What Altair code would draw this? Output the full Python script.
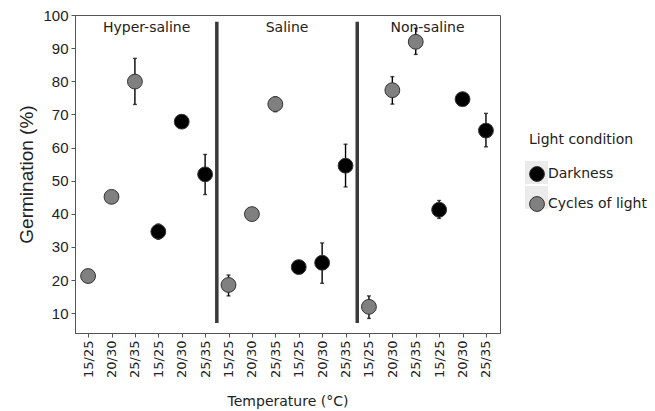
import json
import altair as alt
import pandas as pd

zones = ["Hyper-saline", "Saline", "Non-saline"]
temps = ["15/25", "20/30", "25/35"]
conditions = ["Cycles of light", "Darkness"]
legend_order = ["Darkness", "Cycles of light"]

light_mean = [[21.2, 45.1, 79.9], [18.5, 39.9, 73.1], [11.9, 77.3, 91.9]]
light_lo = [[20.5, 44.3, 73.0], [15.2, 39.0, 70.8], [8.4, 73.1, 88.1]]
light_hi = [[22.0, 45.9, 86.9], [21.5, 40.8, 75.3], [15.2, 81.4, 96.0]]
dark_mean = [[34.6, 67.8, 51.9], [23.9, 25.2, 54.5], [41.2, 74.6, 65.1]]
dark_lo = [[32.3, 66.8, 45.8], [22.5, 19.0, 48.1], [38.6, 73.8, 60.2]]
dark_hi = [[36.9, 68.8, 57.9], [25.8, 31.2, 61.0], [44.0, 75.4, 70.3]]

separators = [6.5, 12.5]
sep_span = [7, 98]

rows = []
for z, zone in enumerate(zones):
    for c, cond in enumerate(conditions):
        m, lo, hi = (light_mean, light_lo, light_hi) if cond == "Cycles of light" else (dark_mean, dark_lo, dark_hi)
        for t, temp in enumerate(temps):
            rows.append({"idx": z * 6 + c * 3 + t + 1, "zone": zone, "temp": temp,
                         "cond": cond, "bg": "bg-" + cond, "mean": m[z][t], "lo": lo[z][t], "hi": hi[z][t]})
df = pd.DataFrame(rows)

sep_df = pd.DataFrame({"idx": separators, "lo": [sep_span[0]] * len(separators),
                       "hi": [sep_span[1]] * len(separators)})
lab_df = pd.DataFrame({"idx": [z * 6 + 3.5 for z in range(len(zones))], "zone": zones,
                       "mean": [96] * len(zones)})

label_expr = json.dumps(temps) + "[(datum.value - 1) % 3]"

xscale = alt.Scale(domain=[0.44, 18.6], nice=False, zero=False)
yscale = alt.Scale(domain=[4, 100], nice=False, zero=False)
xaxis = alt.Axis(values=list(range(1, 19)), labelExpr=label_expr, title="Temperature (°C)",
                 labelAngle=270, labelFont="DejaVu Sans", labelFontSize=13, labelColor="#222",
                 titleFont="DejaVu Sans", titleFontSize=14, titleFontWeight="normal", titleColor="#222",
                 titlePadding=17, tickSize=4, labelPadding=3, grid=False)
yaxis = alt.Axis(values=list(range(10, 101, 10)), title="Germination (%)",
                 labelFont="Liberation Sans", labelFontSize=15, labelColor="#222",
                 titleFont="Liberation Sans", titleFontSize=19, titleFontWeight="normal", titleColor="#222",
                 titlePadding=6, tickSize=4, labelPadding=3, grid=False)

X = alt.X("idx:Q", scale=xscale, axis=xaxis)

LX, LY = 454, 118

# legend background squares (invisible in the plot)
bgl = alt.Chart(df).mark_square(opacity=0, size=10).encode(
    x=X, y=alt.Y("mean:Q", scale=yscale, axis=yaxis),
    color=alt.Color("bg:N", scale=alt.Scale(domain=["bg-" + c for c in legend_order],
                                            range=["#ebebeb", "#ebebeb"]),
                    legend=alt.Legend(title=None, orient="none", legendX=LX - 4, legendY=LY + 28,
                                      labelExpr="''", labelFontSize=1, labelOffset=0,
                                      symbolSize=529, symbolType="square",
                                      symbolStrokeWidth=0, symbolOpacity=1, symbolFillColor="#ebebeb",
                                      rowPadding=2)))

err = alt.Chart(df).mark_rule(color="#000", strokeWidth=1.4).encode(
    x=X, y=alt.Y("lo:Q", scale=yscale, axis=yaxis), y2="hi:Q")
capl = alt.Chart(df).mark_tick(color="#000", thickness=1.4, size=4, orient="horizontal").encode(
    x=X, y=alt.Y("lo:Q", scale=yscale, axis=yaxis))
caph = alt.Chart(df).mark_tick(color="#000", thickness=1.4, size=4, orient="horizontal").encode(
    x=X, y=alt.Y("hi:Q", scale=yscale, axis=yaxis))

pts = alt.Chart(df).mark_circle(size=220, opacity=1, stroke="#333", strokeWidth=1).encode(
    x=X, y=alt.Y("mean:Q", scale=yscale, axis=yaxis),
    fill=alt.Fill("cond:N", scale=alt.Scale(domain=legend_order, range=["#000000", "#808080"]),
                  legend=alt.Legend(title="Light condition", orient="none", legendX=LX, legendY=LY,
                                    titleFont="DejaVu Sans", titleFontSize=14, titleFontWeight="normal",
                                    titleColor="#222", labelFont="DejaVu Sans", labelFontSize=14,
                                    labelColor="#222", symbolSize=220, symbolType="circle",
                                    symbolStrokeColor="#333", symbolStrokeWidth=1, symbolOpacity=1,
                                    rowPadding=10, titlePadding=19, labelOffset=3)))

seps = alt.Chart(sep_df).mark_rule(color="#3a3a3a", strokeWidth=3.5).encode(
    x=X, y=alt.Y("lo:Q", scale=yscale, axis=yaxis), y2="hi:Q")

labels = alt.Chart(lab_df).mark_text(font="DejaVu Sans", fontSize=14, color="#222", baseline="middle").encode(
    x=X, y=alt.Y("mean:Q", scale=yscale, axis=yaxis), text="zone:N")

chart = alt.layer(bgl, seps, err, capl, caph, pts, labels).properties(
    width=425, height=318,
    autosize=alt.AutoSizeParams(type="none"),
    padding={"left": 75, "top": 15, "right": 155, "bottom": 78},
).configure_view(stroke="#555", strokeWidth=1).configure_axis(
    domainColor="#555", tickColor="#555", domainWidth=1)

chart.save("out.html", embed_options={"renderer": "svg", "actions": False})
